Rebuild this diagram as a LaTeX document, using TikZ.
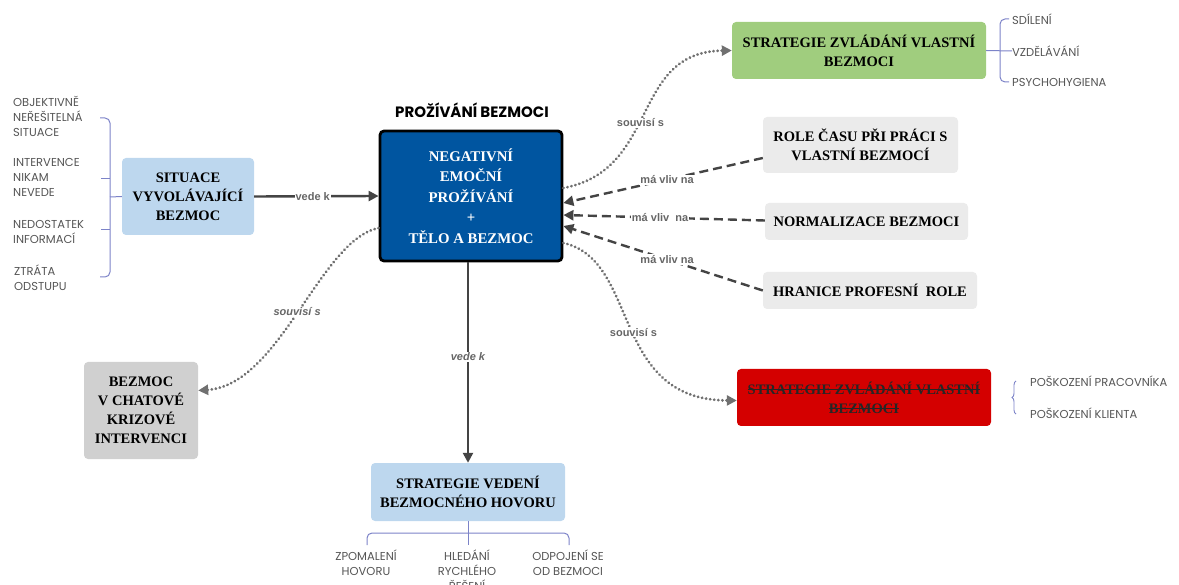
\documentclass[tikz,border=0pt]{standalone}
\usepackage{fontspec}
\setmainfont{Liberation Serif}
\newfontfamily\listfont{Poppins}
\newfontfamily\lblfont{Liberation Sans}
\usetikzlibrary{arrows.meta,decorations.pathreplacing,calc}
\definecolor{lightblue}{HTML}{BDD7EE}
\definecolor{darkblue}{HTML}{0055A0}
\definecolor{greenbox}{HTML}{A0CD7E}
\definecolor{graybox}{HTML}{EBEBEB}
\definecolor{chatbox}{HTML}{D0D0D0}
\definecolor{redbox}{HTML}{D40000}
\definecolor{brackcol}{HTML}{7C83C8}
\definecolor{listgray}{HTML}{555555}
\definecolor{arrowgray}{HTML}{444444}
\definecolor{dotgray}{HTML}{707070}
\definecolor{labelgray}{HTML}{666666}
\newcommand\xstrike[1]{\setbox0\hbox{#1}\rlap{\rule[0.3em]{\wd0}{0.9pt}}\box0}
\begin{document}
\begin{tikzpicture}[x=1pt,y=-1pt,
  box/.style={rounded corners=4pt, align=center, inner sep=0pt,
    font=\bfseries\fontsize{14.5}{19}\selectfont},
  listtxt/.style={font=\listfont\fontsize{11.5}{15}\selectfont, text=listgray, align=left, inner sep=0pt, anchor=west},
  listc/.style={font=\listfont\fontsize{11.5}{15}\selectfont, text=listgray, align=center, inner sep=0pt},
  labl/.style={fill=white, font=\lblfont\bfseries\fontsize{11}{12}\selectfont, text=labelgray, inner sep=1pt},
  ilabl/.style={labl, font=\lblfont\bfseries\itshape\fontsize{11}{12}\selectfont},
  tip/.style={-{Triangle[length=10pt,width=10pt]}},
  solidarr/.style={draw=arrowgray, line width=2.4pt, tip},
  dasharr/.style={draw=arrowgray, line width=2.4pt, dash pattern=on 9pt off 5pt, tip},
  dotarr/.style={draw=dotgray, line width=3pt, dash pattern=on 0.1pt off 4pt, line cap=round, tip},
  brack/.style={draw=brackcol, line width=1pt, rounded corners=5pt}
]
\useasboundingbox (0,0) rectangle (1179,585);
\clip (0,0) rectangle (1179,585);

% main nodes
\node[box, fill=lightblue, minimum width=132pt, minimum height=77pt] (sit) at (188,196.5) {SITUACE\\VYVOLÁVAJÍCÍ\\BEZMOC};
\node[box, fill=darkblue, draw=black, line width=2.8pt, text=white, minimum width=182pt, minimum height=130pt,
      font=\bfseries\fontsize{14.8}{20.5}\selectfont] (cen) at (471,196) {NEGATIVNÍ\\EMOČNÍ\\PROŽÍVÁNÍ\\+\\TĚLO A BEZMOC};
\node[font=\listfont\bfseries\fontsize{15}{16}\selectfont] (title) at (472,110) {PROŽÍVÁNÍ BEZMOCI};
\node[box, fill=greenbox, minimum width=254pt, minimum height=57pt] (green) at (859,50.5) {STRATEGIE ZVLÁDÁNÍ VLASTNÍ\\BEZMOCI};
\node[box, fill=graybox, minimum width=195pt, minimum height=56pt] (role) at (860.5,145) {ROLE ČASU PŘI PRÁCI S\\VLASTNÍ BEZMOCÍ};
\node[box, fill=graybox, minimum width=203pt, minimum height=37pt] (norm) at (866.5,221.5) {NORMALIZACE BEZMOCI};
\node[box, fill=graybox, minimum width=214pt, minimum height=37pt] (hran) at (870,290.5) {HRANICE PROFESNÍ\ \ ROLE};
\node[box, fill=redbox, minimum width=254pt, minimum height=57pt, text=black!85] (red) at (864,397.5) {\xstrike{STRATEGIE ZVLÁDÁNÍ VLASTNÍ}\\\xstrike{BEZMOCI}};
\node[box, fill=chatbox, minimum width=114pt, minimum height=97pt] (chat) at (141,410.5) {BEZMOC\\V CHATOVÉ\\KRIZOVÉ\\INTERVENCI};
\node[box, fill=lightblue, minimum width=194pt, minimum height=58pt] (vede) at (468,492) {STRATEGIE VEDENÍ\\BEZMOCNÉHO HOVORU};

% left list
\node[listtxt] (l1) at (13,116) {OBJEKTIVNĚ\\NEŘEŠITELNÁ\\SITUACE};
\node[listtxt] (l2) at (13,177) {INTERVENCE\\NIKAM\\NEVEDE};
\node[listtxt] (l3) at (13,231.5) {NEDOSTATEK\\INFORMACÍ};
\node[listtxt] (l4) at (14,277.5) {ZTRÁTA\\ODSTUPU};
\draw[brack] (100,118) -| (110,277) -- (100,277);
\draw[brack] (101,179) -- (110,179);
\draw[brack] (101,230) -- (110,230);
\draw[brack] (110,197) -- (sit.west);

% green list
\node[listtxt] (g1) at (1012,19) {SDÍLENÍ};
\node[listtxt] (g2) at (1012,51) {VZDĚLÁVÁNÍ};
\node[listtxt] (g3) at (1012,82) {PSYCHOHYGIENA};
\draw[brack] (1009,19) -| (1000,82) -- (1009,82);
\draw[brack] (green.east) -- (g2.west);

% red list
\node[listtxt] (r1) at (1030,381) {POŠKOZENÍ PRACOVNÍKA};
\node[listtxt] (r2) at (1030,413) {POŠKOZENÍ KLIENTA};
\draw[draw=brackcol, line width=0.9pt, decorate, decoration={brace, amplitude=4pt}] (1016,414) -- (1016,381);

% bottom list
\node[listc] (b1) at (366,562.5) {ZPOMALENÍ\\HOVORU};
\node[listc] (b2) at (467,570) {HLEDÁNÍ\\RYCHLÉHO\\ŘEŠENÍ};
\node[listc] (b3) at (568,562.5) {ODPOJENÍ SE\\OD BEZMOCI};
\draw[brack] (367,545) |- (569,533) -- (569,545);
\draw[brack] (vede.south) -- (468,545);

% connectors
\draw[solidarr] (sit.east) -- (cen.west) node[labl, pos=0.47] {vede k};
\draw[solidarr] (cen.south -| vede.north) -- (vede.north) node[ilabl, pos=0.47] {vede k};
\draw[dotarr] ([yshift=8pt]cen.east) .. controls (660,170) and (630,52) .. (green.west) node[labl, pos=0.45] {souvisí s};
\draw[dotarr] ([yshift=-47pt]cen.east) .. controls (640,260) and (610,400) .. ([yshift=-3pt]red.west) node[labl, pos=0.52] {souvisí s};
\draw[dotarr] ([yshift=-32pt]cen.west) .. controls (320,240) and (280,385) .. ([yshift=20pt]chat.east) node[ilabl, pos=0.5] {souvisí s};
\draw[dasharr] ([yshift=-13pt]role.west) -- ([yshift=-7pt]cen.east) node[labl, pos=0.48] {má vliv na};
\draw[dasharr] ([yshift=1pt]norm.west) -- ([yshift=-19pt]cen.east) node[labl, pos=0.52] {má vliv\ \ na};
\draw[dasharr] ([yshift=0pt]hran.west) -- ([yshift=-30pt]cen.east) node[labl, pos=0.48] {má vliv na};
\end{tikzpicture}
\end{document}
